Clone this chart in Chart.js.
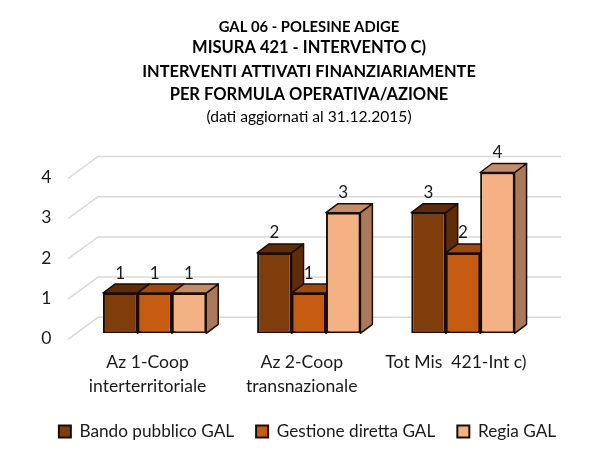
<!DOCTYPE html>
<html>
<head>
<meta charset="utf-8">
<style>
  html, body { margin: 0; background: #fff; }
  canvas { display: block; }
</style>
<script src="https://cdn.jsdelivr.net/npm/chart.js@4"></script>
</head>
<body>
<canvas id="chart" width="615" height="461"></canvas>
<script>
const categories = [["Az 1-Coop", "interterritoriale"], ["Az 2-Coop", "transnazionale"], "Tot Mis  421-Int c)"];
const bandoValues = [1, 2, 3];
const gestioneValues = [1, 1, 2];
const regiaValues = [1, 3, 4];
const titleLines = [
  { text: "GAL 06 - POLESINE ADIGE", font: "bold 14.8px Lato", y: 27 },
  { text: "MISURA 421 - INTERVENTO C)", font: "bold 16.5px Lato", y: 47.5 },
  { text: "INTERVENTI ATTIVATI FINANZIARIAMENTE", font: "bold 16.4px Lato", y: 71.5 },
  { text: "PER FORMULA OPERATIVA/AZIONE", font: "bold 16.5px Lato", y: 94.5 },
  { text: "(dati aggiornati al 31.12.2015)", font: "15.6px Lato", y: 117 },
];

const edge = "#1c0d03";
// face colours: front, top, side
const faces = [
  ["#7f3d0c", "#5f2c08", "#5f2c08"],
  ["#c55a11", "#a04a0e", "#a04a0e"],
  ["#f4b183", "#c48d69", "#a9795a"],
];
const depthX = 12, depthY = 9;

function face(ctx, pts, fill) {
  ctx.beginPath();
  pts.forEach((p, i) => (i ? ctx.lineTo(p[0], p[1]) : ctx.moveTo(p[0], p[1])));
  ctx.closePath();
  ctx.fillStyle = fill;
  ctx.fill();
  ctx.stroke();
}

// the 3d look: back wall grid, then bar tops and sides under the front faces
const depthPlugin = {
  id: "depth",
  beforeDatasetsDraw(chart) {
    const { ctx, chartArea, scales } = chart;
    const backL = chartArea.left + 20.5, backR = chartArea.right + 21, frontL = chartArea.left - 9.5;
    ctx.save();
    ctx.strokeStyle = "#d9d9d9";
    ctx.lineWidth = 1.5;
    scales.y.ticks.forEach((t) => {
      const y = scales.y.getPixelForValue(t.value);
      ctx.beginPath();
      ctx.moveTo(frontL, y + 6);
      ctx.lineTo(backL, y - 16);
      ctx.lineTo(backR, y - 16);
      ctx.stroke();
    });
    ctx.strokeStyle = edge;
    ctx.lineJoin = "round";
    categories.forEach((c, i) => {
      chart.data.datasets.forEach((d, di) => {
        const b = chart.getDatasetMeta(di).data[i];
        const l = b.x - b.width / 2, r = b.x + b.width / 2;
        face(ctx, [[r, b.y], [r + depthX, b.y - depthY], [r + depthX, b.base - depthY], [r, b.base]], faces[di][2]);
        face(ctx, [[l, b.y], [l + depthX, b.y - depthY], [r + depthX, b.y - depthY], [r, b.y]], faces[di][1]);
      });
    });
    ctx.restore();
  },
  afterDatasetsDraw(chart) {
    const { ctx } = chart;
    ctx.save();
    ctx.fillStyle = "#1a1a1a";
    ctx.textAlign = "center";
    ctx.textBaseline = "middle";
    ctx.font = "17px Lato";
    chart.data.datasets.forEach((d, di) => {
      chart.getDatasetMeta(di).data.forEach((b, i) => {
        ctx.fillText(d.data[i], b.x, b.y - 20);
      });
    });
    titleLines.forEach((t) => {
      ctx.font = t.font;
      ctx.fillStyle = "#000";
      ctx.fillText(t.text, 309, t.y);
    });
    ctx.restore();
  },
};

new Chart(document.getElementById("chart"), {
  type: "bar",
  data: {
    labels: categories,
    datasets: [
      { label: "Bando pubblico GAL", data: bandoValues, backgroundColor: faces[0][0] },
      { label: "Gestione diretta GAL", data: gestioneValues, backgroundColor: faces[1][0] },
      { label: "Regia GAL", data: regiaValues, backgroundColor: faces[2][0] },
    ].map((d) => ({ ...d, borderColor: edge, borderWidth: 2, borderSkipped: false, barPercentage: 1, categoryPercentage: 0.67 })),
  },
  options: {
    responsive: false,
    animation: false,
    layout: { padding: { top: 172.5, right: 0, bottom: 11, left: 0 } },
    plugins: {
      tooltip: { enabled: false },
      legend: {
        position: "bottom",
        labels: { boxWidth: 12, boxHeight: 12, padding: 22, color: "#1a1a1a", font: { family: "Lato", size: 17.2 } },
      },
    },
    scales: {
      x: {
        afterFit(s) { s.height = 67.5; },
        grid: { display: false },
        border: { display: false },
        ticks: { color: "#1a1a1a", padding: 9, labelOffset: -7, maxRotation: 0, autoSkip: false, font: { family: "Lato", size: 17.6, lineHeight: 1.37 } },
      },
      y: {
        min: 0,
        max: 4,
        afterFit(s) { s.width = 77.5; },
        grid: { display: false },
        border: { display: false },
        ticks: { stepSize: 1, color: "#1a1a1a", padding: 18, labelOffset: 5, font: { family: "Lato", size: 17.5 } },
      },
      // empty axis, only keeps the room on the right for the bars' depth
      yRight: {
        position: "right",
        afterFit(s) { s.width = 75; },
        grid: { display: false },
        border: { display: false },
        ticks: { display: false },
      },
    },
  },
  plugins: [depthPlugin],
});
</script>
</body>
</html>
